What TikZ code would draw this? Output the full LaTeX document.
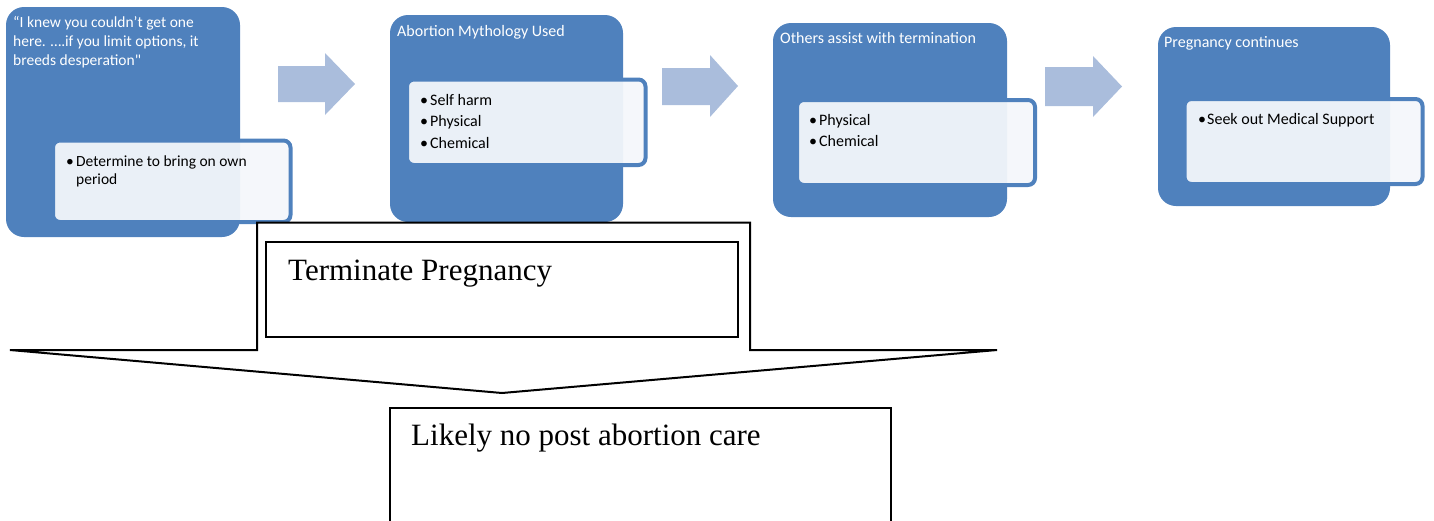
\documentclass[tikz,border=0pt]{standalone}
\usepackage{fontspec}
\newfontfamily\calfont{Carlito}
\newfontfamily\serfont{Liberation Serif}
\definecolor{offblue}{RGB}{79,129,189}
\definecolor{arrowblue}{RGB}{170,189,220}
\definecolor{panelfill}{RGB}{244,247,251}
\begin{document}
\begin{tikzpicture}[x=1pt,y=-1pt,
  outerbox/.style={fill=offblue, rounded corners=18pt},
  innerbox/.style={draw=offblue, line width=4pt, fill=panelfill, fill opacity=0.94, draw opacity=1, rounded corners=7pt},
  blockarrow/.style={fill=arrowblue},
  headtxt/.style={anchor=base west, inner sep=0pt, text=white, font=\calfont\fontsize{15.5}{19}\selectfont},
  bultxt/.style={anchor=base west, inner sep=0pt, text=black, font=\calfont\fontsize{15.5}{19}\selectfont},
  bigtxt/.style={anchor=base west, inner sep=0pt, text=black, font=\serfont\fontsize{31}{37}\selectfont},
  blackbox/.style={draw=black, line width=2pt, fill=white}
]
\useasboundingbox (0,0) rectangle (1434,520);
\clip (0,0) rectangle (1434,520);

% ---- blue boxes ----
\path[outerbox] (6,7) rectangle (240,237);
\path[innerbox] (53,140.5) rectangle (290.5,222);
\path[outerbox] (390,15) rectangle (623,222);
\path[innerbox] (407,79.5) rectangle (645.5,165);
\path[outerbox] (773,23) rectangle (1007,217);
\path[innerbox] (797,100) rectangle (1035,185);
\path[outerbox] (1158,27) rectangle (1390,206);
\path[innerbox] (1184.5,99) rectangle (1422.5,184);

% ---- block arrows ----
\fill[blockarrow] (278,66) -- (325,66) -- (325,53) -- (355,84) -- (325,115) -- (325,102) -- (278,102) -- cycle;
\fill[blockarrow] (662,68) -- (710,68) -- (710,55) -- (738,86) -- (710,117) -- (710,105) -- (662,105) -- cycle;
\fill[blockarrow] (1045,67) -- (1093,67) -- (1093,56) -- (1122,86.5) -- (1093,117) -- (1093,106) -- (1045,106) -- cycle;

% ---- texts in blue boxes ----
\node[headtxt] (t1a) at (13,27) {“I knew you couldn’t get one};
\node[headtxt] (t1b) at (13,46) {here. ….if you limit options, it};
\node[headtxt] (t1c) at (13,65) {breeds desperation"};
\node[bultxt] (b1a) at (66,166) {\makebox[10pt][l]{•}Determine to bring on own};
\node[bultxt] (b1b) at (76,184.5) {period};

\node[headtxt, font=\calfont\fontsize{16}{20}\selectfont] (t2) at (397,36.5) {Abortion Mythology Used};
\node[bultxt, font=\calfont\fontsize{16}{20}\selectfont] (b2a) at (420,105) {\makebox[10pt][l]{•}Self harm};
\node[bultxt, font=\calfont\fontsize{16}{20}\selectfont] (b2b) at (420,126.5) {\makebox[10pt][l]{•}Physical};
\node[bultxt, font=\calfont\fontsize{16}{20}\selectfont] (b2c) at (420,148) {\makebox[10pt][l]{•}Chemical};

\node[headtxt, font=\calfont\fontsize{16}{20}\selectfont] (t3) at (780,43.3) {Others assist with termination};
\node[bultxt, font=\calfont\fontsize{16}{20}\selectfont] (b3a) at (809,125.7) {\makebox[10pt][l]{•}Physical};
\node[bultxt, font=\calfont\fontsize{16}{20}\selectfont] (b3b) at (809,146.7) {\makebox[10pt][l]{•}Chemical};

\node[headtxt, font=\calfont\fontsize{16}{20}\selectfont] (t4) at (1164,47.7) {Pregnancy continues};
\node[bultxt, font=\calfont\fontsize{16}{20}\selectfont] (b4a) at (1198,124) {\makebox[9pt][l]{•}Seek out Medical Support};

% ---- big down arrow ----
\path[blackbox, line join=miter] (257,222.7) -- (750,222.7) -- (750,350) -- (997,350) -- (502,393) -- (10,350) -- (257,350) -- cycle;
\path[blackbox] (266,242) rectangle (738,337);
\node[bigtxt] (term) at (288,280.7) {Terminate Pregnancy};

% ---- bottom box ----
\path[blackbox] (390,408) rectangle (891,540);
\node[bigtxt] (care) at (411,445.5) {Likely no post abortion care};
\end{tikzpicture}
\end{document}
